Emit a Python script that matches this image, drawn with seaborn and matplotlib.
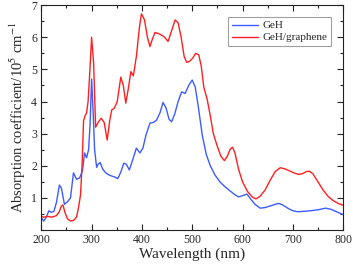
import matplotlib
matplotlib.use("Agg")
import matplotlib.pyplot as plt
import seaborn as sns
from matplotlib.ticker import MultipleLocator

# GeH spectrum
wl_geh = [200, 205, 210, 215, 220, 225, 230, 236, 240, 246, 252, 258, 264, 270, 276,
          282, 286, 290, 294, 297, 300, 303, 306, 310, 313, 317, 322, 328, 334, 340,
          346, 352, 358, 364, 369, 375, 382, 389, 396, 402, 408, 416, 423, 429, 436,
          442, 448, 454, 459, 465, 472, 479, 486, 493, 500, 506, 512, 520, 528, 536,
          545, 555, 565, 575, 585, 592, 600, 609, 617, 625, 635, 645, 655, 665, 672,
          680, 690, 700, 710, 720, 735, 750, 765, 775, 790, 800]
abs_geh = [0.38, 0.28, 0.40, 0.60, 0.55, 0.58, 0.85, 1.40, 1.30, 0.80, 0.88, 1.00, 1.78, 1.58, 1.62,
           1.85, 2.40, 2.25, 2.50, 3.30, 4.70, 3.70, 2.50, 1.95, 2.05, 2.10, 1.90, 1.78, 1.72, 1.68,
           1.65, 1.60, 1.80, 2.08, 2.05, 1.87, 2.20, 2.55, 2.40, 2.55, 2.95, 3.33, 3.35, 3.42, 3.65,
           3.97, 3.80, 3.45, 3.37, 3.60, 4.00, 4.30, 4.25, 4.50, 4.67, 4.45, 3.85, 2.95, 2.35, 2.00,
           1.72, 1.50, 1.35, 1.22, 1.10, 1.03, 1.07, 1.12, 0.95, 0.80, 0.68, 0.70, 0.75, 0.80, 0.83,
           0.78, 0.68, 0.60, 0.57, 0.58, 0.60, 0.63, 0.68, 0.65, 0.55, 0.48]

# GeH/graphene spectrum
wl_gr = [200, 205, 210, 215, 220, 225, 230, 235, 240, 243, 247, 252, 258, 264, 270,
         274, 278, 281, 284, 287, 290, 293, 296, 300, 304, 308, 313, 319, 325, 331,
         336, 340, 345, 351, 358, 363, 368, 373, 378, 383, 389, 395, 399, 405, 411,
         416, 421, 426, 432, 439, 445, 452, 459, 466, 472, 478, 484, 489, 495, 501,
         507, 513, 518, 523, 530, 536, 542, 550, 557, 564, 570, 575, 580, 585, 592,
         600, 610, 620, 627, 635, 645, 655, 665, 675, 685, 695, 705, 713, 720, 727,
         733, 740, 750, 760, 770, 780, 790, 800]
abs_gr = [0.42, 0.40, 0.42, 0.42, 0.40, 0.42, 0.45, 0.55, 0.75, 0.78, 0.55, 0.35, 0.28, 0.30, 0.40,
          0.70, 1.10, 2.00, 3.40, 3.55, 3.65, 4.00, 4.80, 6.00, 5.20, 3.20, 3.35, 3.48, 3.35, 2.80,
          3.40, 3.74, 3.79, 4.00, 4.76, 4.50, 3.95, 4.40, 4.93, 4.80, 5.40, 6.30, 6.73, 6.55, 6.00,
          5.71, 5.95, 6.15, 6.12, 6.07, 6.00, 5.87, 6.20, 6.54, 6.45, 6.00, 5.40, 5.22, 5.25, 5.35,
          5.50, 5.45, 5.10, 4.45, 4.05, 3.55, 3.00, 2.60, 2.30, 2.16, 2.30, 2.50, 2.58, 2.40, 1.90,
          1.50, 1.20, 1.02, 0.97, 1.05, 1.25, 1.55, 1.82, 1.94, 1.90, 1.83, 1.76, 1.73, 1.76, 1.82,
          1.83, 1.75, 1.50, 1.25, 1.05, 0.92, 0.83, 0.77]

sns.set_theme(style="ticks")
plt.rcParams['font.family'] = ['Liberation Serif', 'DejaVu Serif']
plt.rcParams['mathtext.fontset'] = 'stix'
plt.rcParams['xtick.direction'] = 'in'
plt.rcParams['ytick.direction'] = 'in'

fig = plt.figure(figsize=(3.53, 2.70), dpi=100)
ax = fig.add_axes([0.117, 0.148, 0.855, 0.833])

sns.lineplot(x=wl_geh, y=abs_geh, ax=ax, color='#3d5cff', lw=1.0, label='GeH')
sns.lineplot(x=wl_gr, y=abs_gr, ax=ax, color='#ff1f1f', lw=1.0, label='GeH/graphene')

ax.set_xlim(200, 800)
ax.set_ylim(0, 7)
ax.xaxis.set_major_locator(MultipleLocator(100))
ax.xaxis.set_minor_locator(MultipleLocator(50))
ax.yaxis.set_minor_locator(MultipleLocator(0.5))
# no label at 0, like the original
ax.set_yticks([1, 2, 3, 4, 5, 6, 7])
ax.tick_params(which='both', top=True, right=True, labelsize=8.5, width=0.8, color='#222222')
ax.tick_params(which='major', length=4, pad=3)
ax.tick_params(which='minor', length=2)
for s in ax.spines.values():
    s.set_linewidth(0.8)
    s.set_color('#222222')

ax.set_xlabel('Wavelength (nm)', fontsize=11, labelpad=1)
ax.set_ylabel('Absorption coefficient/10$^5$ cm$^{-1}$', fontsize=10.5, labelpad=2)

leg = ax.legend(loc='upper right', fontsize=8, frameon=True, fancybox=False,
                edgecolor='#888888', handlelength=2.4, borderaxespad=1.1,
                borderpad=0.3, labelspacing=0.2, handletextpad=0.4)
leg.get_frame().set_linewidth(0.8)

fig.savefig('out.png', dpi=100)
